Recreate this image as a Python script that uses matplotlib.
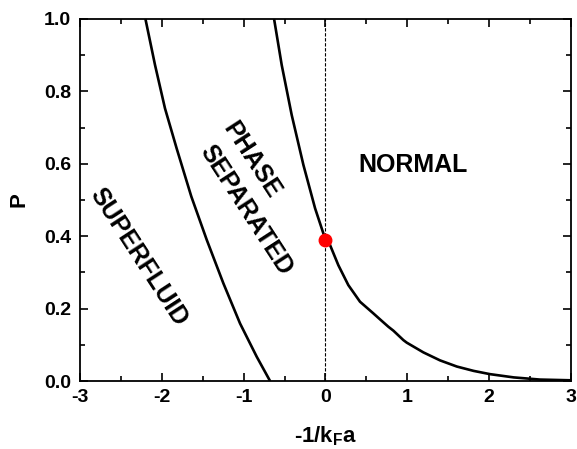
import matplotlib
matplotlib.use('Agg')
import matplotlib.pyplot as plt
import numpy as np

plt.rcParams['font.family'] = ['Liberation Sans', 'DejaVu Sans']
plt.rcParams['font.weight'] = 'bold'
plt.rcParams['mathtext.default'] = 'regular'
plt.rcParams['axes.unicode_minus'] = False

# superfluid / phase separated boundary
sf_x = [-2.20, -2.083, -1.961, -1.818, -1.64, -1.451, -1.248, -1.044, -0.84, -0.677]
sf_p = [1.0, 0.873, 0.753, 0.642, 0.51, 0.39, 0.27, 0.159, 0.067, 0.0]

# phase separated / normal boundary
nm_x = [-0.628, -0.535, -0.413, -0.27, -0.127, 0.0, 0.055, 0.157, 0.279, 0.422, 0.584,
        0.668, 0.768, 0.83, 0.952, 0.993, 1.197, 1.40, 1.605, 1.81, 2.01, 2.30, 2.62, 3.0]
nm_p = [1.0, 0.873, 0.735, 0.597, 0.477, 0.39, 0.376, 0.320, 0.265, 0.219, 0.187,
        0.170, 0.15, 0.139, 0.113, 0.106, 0.079, 0.057, 0.040, 0.028, 0.019, 0.010, 0.004, 0.002]

crit_x = [0.0]
crit_p = [0.39]

fig = plt.figure(figsize=(5.77, 4.49), dpi=100)
ax = fig.add_axes([0.1386, 0.1514, 0.851, 0.8063])

ax.plot(sf_x, sf_p, 'k-', lw=1.9, solid_capstyle='butt')
ax.plot(nm_x, nm_p, 'k-', lw=1.9, solid_capstyle='butt')
ax.axvline(0, color='k', ls=(0, (3, 1.5)), lw=0.8)
ax.plot(crit_x, crit_p, 'o', color='red', ms=9, zorder=5)

ax.text(-2.28, 0.343, 'SUPERFLUID', rotation=-57, ha='center', va='center', fontsize=18, fontweight='bold')
ax.text(-0.90, 0.61, 'PHASE', rotation=-57, ha='center', va='center', fontsize=18, fontweight='bold')
ax.text(-0.97, 0.472, 'SEPARATED', rotation=-57, ha='center', va='center', fontsize=18, fontweight='bold')
ax.text(1.07, 0.597, 'NORMAL', ha='center', va='center', fontsize=18, fontweight='bold')

ax.set_xlim(-3, 3)
ax.set_ylim(0, 1)
ax.set_xticks([-3, -2, -1, 0, 1, 2, 3])
ax.set_yticks([0.0, 0.2, 0.4, 0.6, 0.8, 1.0])
ax.set_yticklabels(['0.0', '0.2', '0.4', '0.6', '0.8', '1.0'])
ax.set_xticks(np.arange(-2.5, 3, 1.0), minor=True)
ax.set_yticks(np.arange(0.1, 1.0, 0.2), minor=True)
ax.tick_params(which='both', direction='in', top=True, right=True, labelsize=14, width=1.2)
ax.tick_params(axis='y', pad=6.5)
ax.tick_params(axis='x', pad=6)
ax.tick_params(which='major', length=6)
ax.tick_params(which='minor', length=3.5)
for s in ax.spines.values():
    s.set_linewidth(1.3)

ax.set_xlabel('-1/k$_F$a', fontsize=16, fontweight='bold', labelpad=13)
ax.set_ylabel('P', fontsize=16, fontweight='bold', labelpad=10)

fig.savefig('out.png', dpi=100)
